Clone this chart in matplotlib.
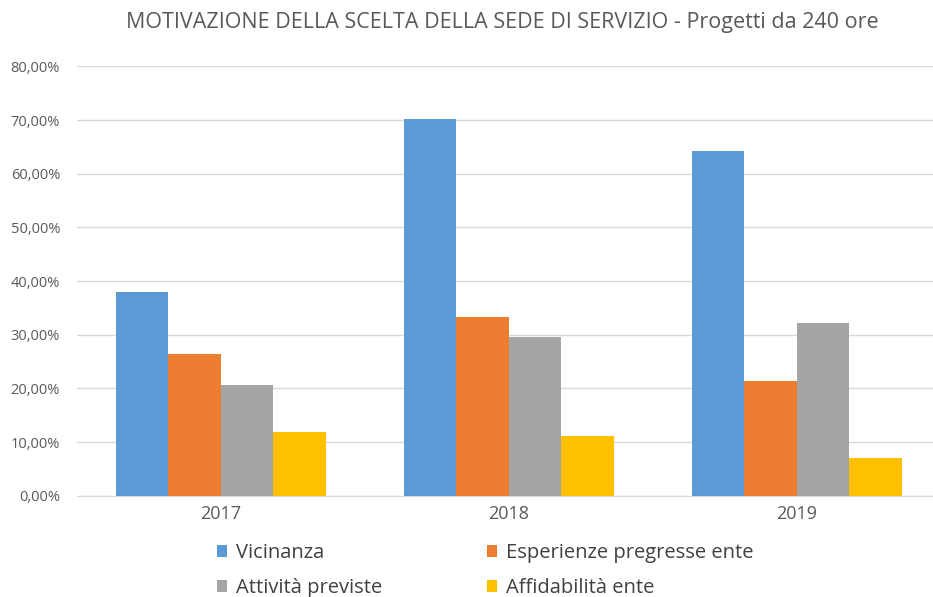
import matplotlib.pyplot as plt
import numpy as np
from matplotlib.ticker import FuncFormatter

plt.rcParams['font.family'] = ['Open Sans', 'DejaVu Sans']

anni = ["2017", "2018", "2019"]
vicinanza = [38.0, 70.2, 64.2]
esperienze = [26.5, 33.3, 21.4]
attivita = [20.6, 29.6, 32.1]
affidabilita = [11.9, 11.2, 7.1]

serie = ["Vicinanza", "Esperienze pregresse ente", "Attività previste", "Affidabilità ente"]
colori = ["#5B9BD5", "#ED7D31", "#A5A5A5", "#FFC000"]
valori = [vicinanza, esperienze, attivita, affidabilita]

fig = plt.figure(figsize=(9.33, 5.97), dpi=100)
ax = fig.add_axes([0.0822, 0.1697, 0.918, 0.719])

x = np.arange(len(anni))
w = 0.1823
barre = []
for i, (nome, col, val) in enumerate(zip(serie, colori, valori)):
    b = ax.bar(x + (i - 1.5) * w, val, width=w, color=col, label=nome, zorder=3)
    barre.append(b)

ax.set_xlim(-0.5, 2.473)
ax.set_ylim(0, 80)
ax.set_yticks(range(0, 81, 10))
ax.yaxis.set_major_formatter(FuncFormatter(lambda v, p: f"{v:.2f}%".replace(".", ",")))
ax.set_xticks(x)
ax.set_xticklabels(anni)
ax.grid(axis="y", color="#D9D9D9", linewidth=1, zorder=0)
for s in ["top", "right", "left"]:
    ax.spines[s].set_visible(False)
ax.spines["bottom"].set_color("#D9D9D9")
ax.tick_params(axis="both", length=0, colors="#595959")
ax.tick_params(axis="y", labelsize=10.5, pad=12)
ax.tick_params(axis="x", labelsize=13, pad=7)

fig.text(0.538, 0.962, "MOTIVAZIONE DELLA SCELTA DELLA SEDE DI SERVIZIO - Progetti da 240 ore",
         ha="center", va="center", fontsize=15.5, color="#595959")

# ordine per righe come nell'originale
ordine = [0, 2, 1, 3]
fig.legend([barre[i] for i in ordine], [serie[i] for i in ordine],
           loc="upper left", bbox_to_anchor=(0.2325, 0.0905), ncol=2, frameon=False,
           fontsize=14.5, handlelength=0.5, handleheight=0.5, handletextpad=0.45,
           columnspacing=5.2, labelspacing=0.75, labelcolor="#404040",
           borderaxespad=0, borderpad=0)

fig.savefig("out.png", dpi=100, facecolor="white")
